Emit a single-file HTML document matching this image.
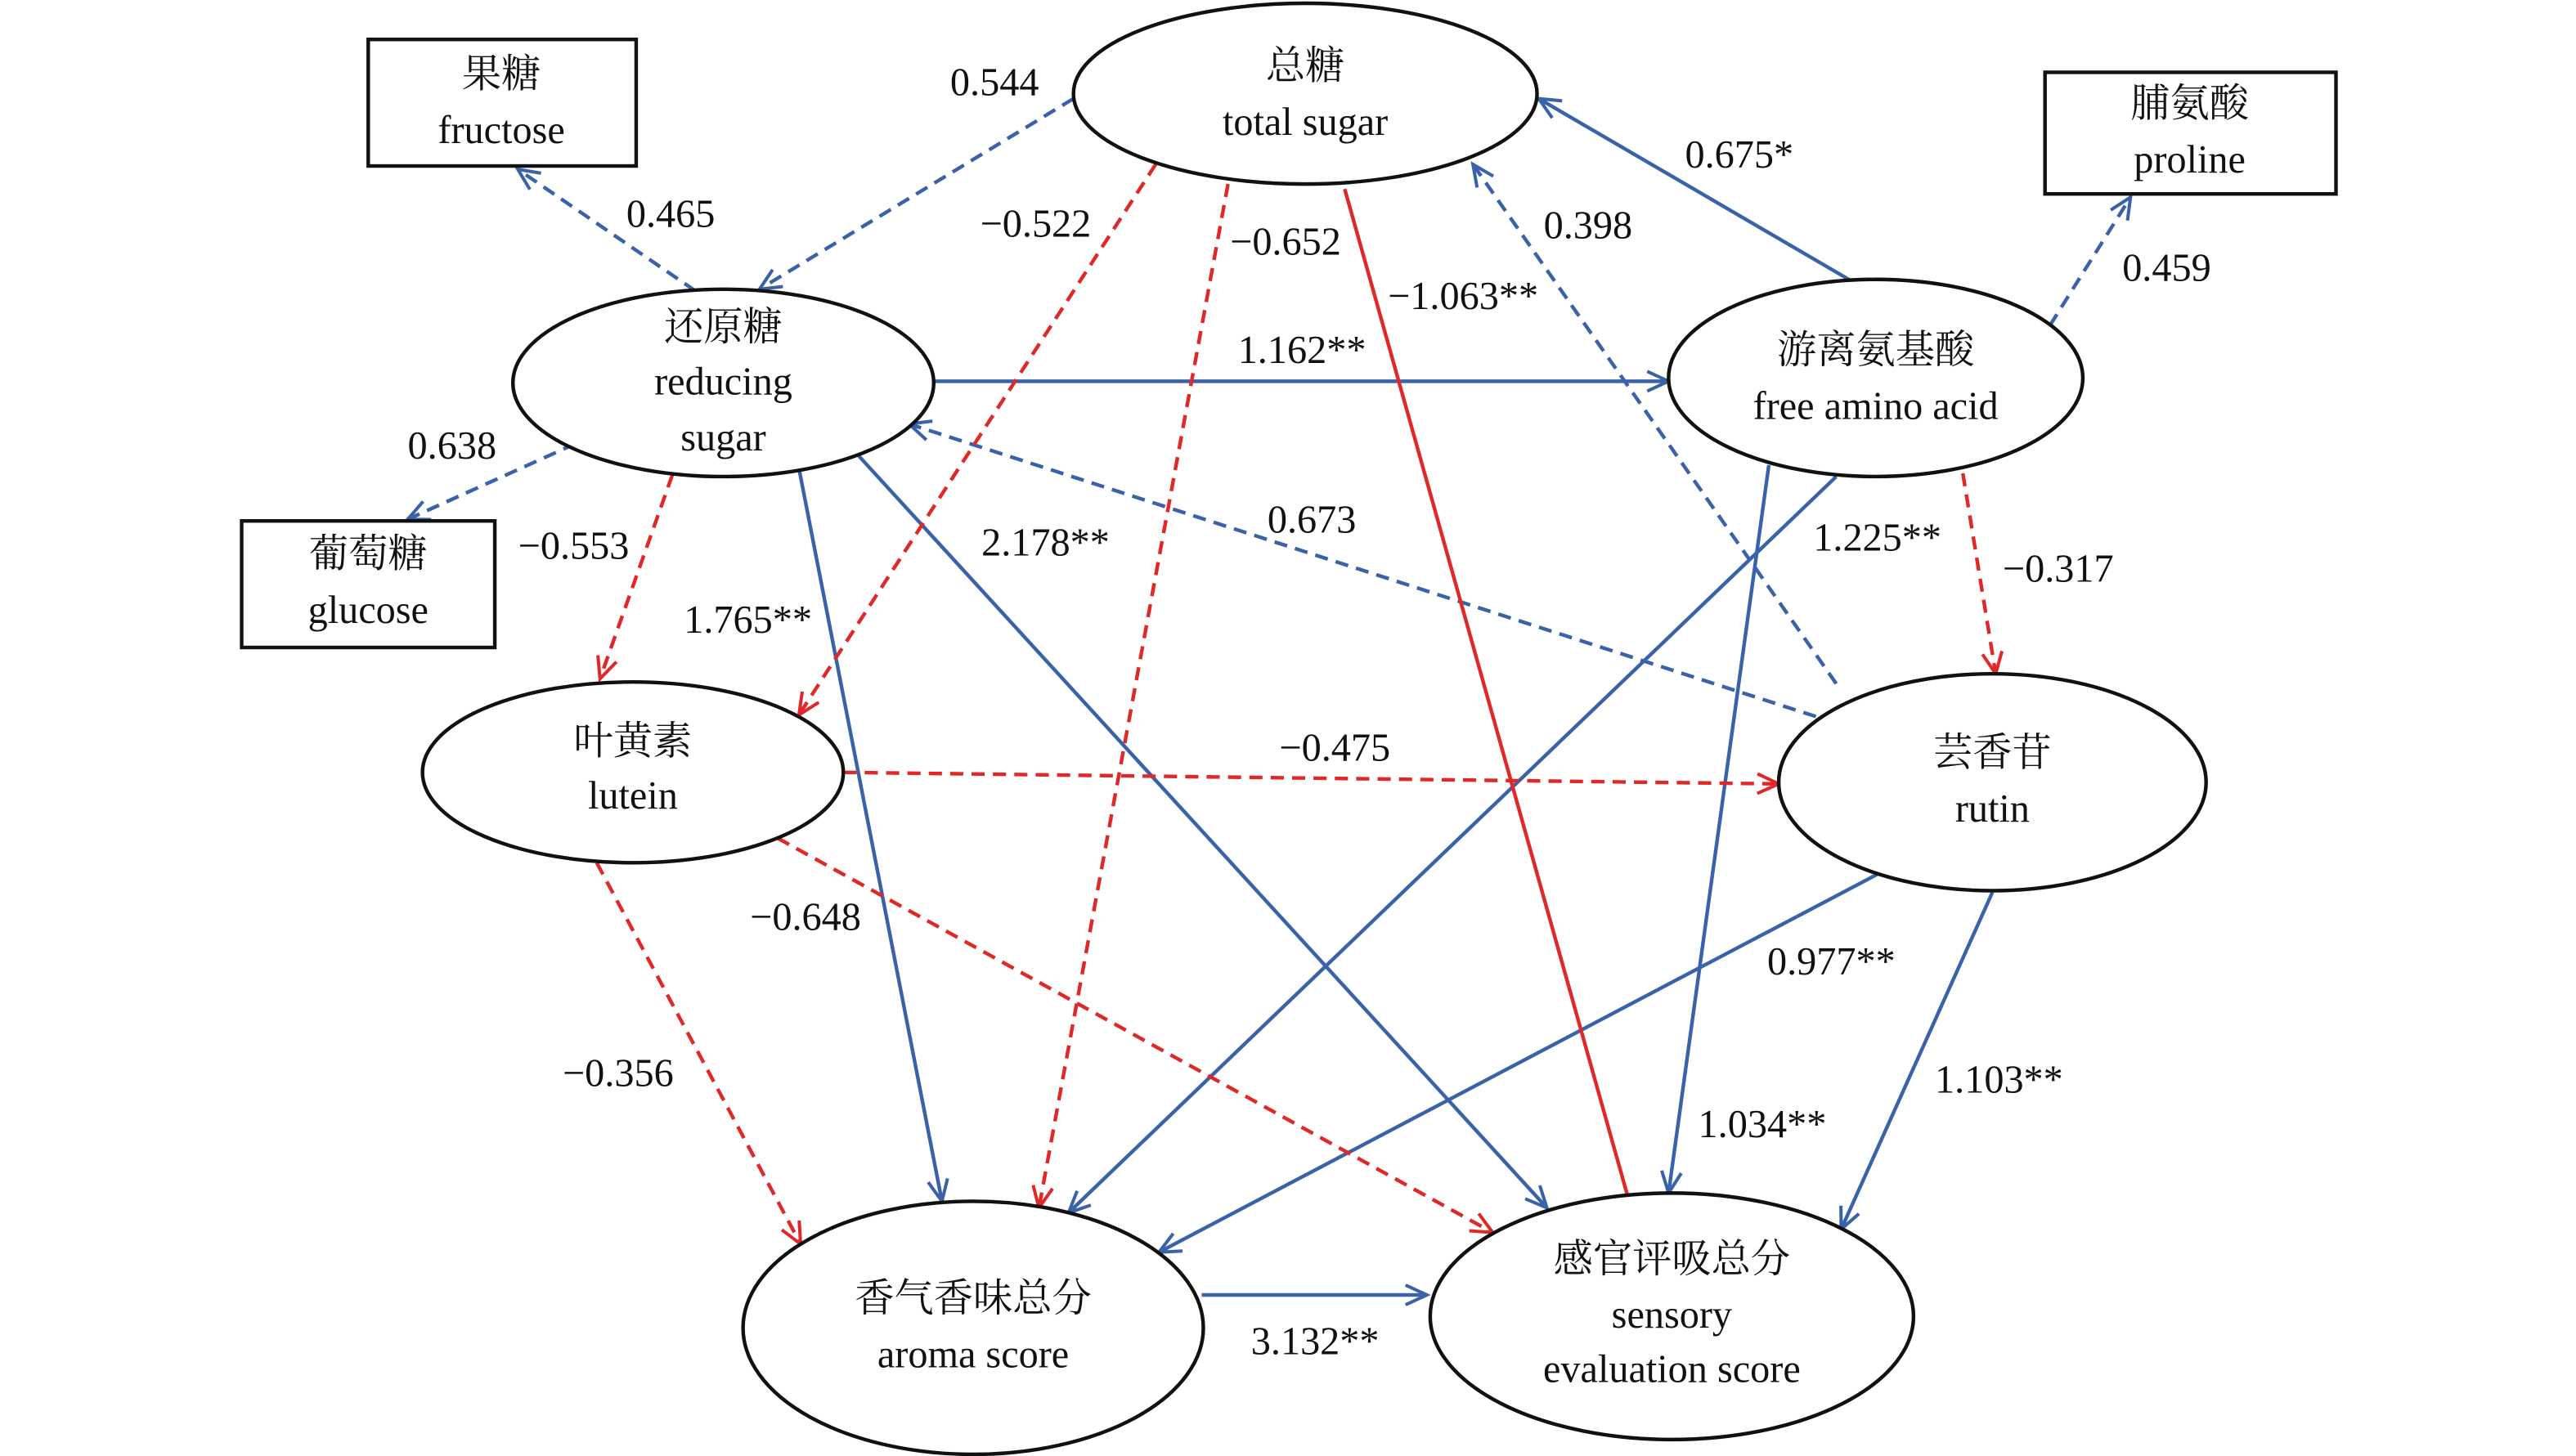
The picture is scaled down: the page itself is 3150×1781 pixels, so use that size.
<!DOCTYPE html>
<html><head><meta charset="utf-8"><style>
html,body{margin:0;padding:0;background:#fff;}
svg{display:block;}
text{font-family:"Liberation Serif","Noto Serif CJK SC",serif;font-size:24px;fill:#111;text-anchor:middle;}
</style></head><body>
<svg width="3150" height="1781" viewBox="0 0 1567 886" preserveAspectRatio="none" xmlns="http://www.w3.org/2000/svg">
<defs>
<marker id="ab" markerWidth="20" markerHeight="20" refX="14" refY="7" orient="auto" markerUnits="userSpaceOnUse"><path d="M1,1 L14,7 L1,13" fill="none" stroke="#3a62a8" stroke-width="2"/></marker>
<marker id="ar" markerWidth="20" markerHeight="20" refX="14" refY="7" orient="auto" markerUnits="userSpaceOnUse"><path d="M1,1 L14,7 L1,13" fill="none" stroke="#e02828" stroke-width="2"/></marker>
</defs>
<g fill="none" stroke-width="2.2">
<g stroke="#3a62a8" stroke-dasharray="8,5" marker-end="url(#ab)">
<line x1="653" y1="60" x2="462" y2="176"/>
<line x1="423" y1="177" x2="315" y2="103"/>
<line x1="350" y1="270" x2="248" y2="316"/>
<line x1="1247" y1="198" x2="1296" y2="120"/>
<line x1="1117" y1="440" x2="553" y2="258"/>
<line x1="1117" y1="416" x2="896" y2="100"/>
</g>
<g stroke="#3a62a8" marker-end="url(#ab)">
<line x1="1128" y1="172" x2="936" y2="60"/>
<line x1="568" y1="232" x2="1015" y2="232"/>
<line x1="486" y1="285" x2="573" y2="731"/>
<line x1="522" y1="277" x2="941" y2="735"/>
<line x1="1117" y1="290" x2="650" y2="738"/>
<line x1="1076" y1="283" x2="1015" y2="726"/>
<line x1="1142" y1="532" x2="705" y2="762"/>
<line x1="1212" y1="543" x2="1120" y2="748"/>
<line x1="731" y1="788" x2="868" y2="788"/>
</g>
<line x1="818" y1="115" x2="991" y2="731" stroke="#e02828"/>
<g stroke="#e02828" stroke-dasharray="8,5" marker-end="url(#ar)">
<line x1="703" y1="100" x2="486" y2="435"/>
<line x1="747" y1="112" x2="632" y2="735"/>
<line x1="409" y1="289" x2="365" y2="413"/>
<line x1="1194" y1="288" x2="1214" y2="410"/>
<line x1="513" y1="470" x2="1082" y2="477"/>
<line x1="473" y1="510" x2="908" y2="750"/>
<line x1="363" y1="525" x2="487" y2="757"/>
</g>
</g>
<g fill="#fff" stroke="#111" stroke-width="2.2">
<ellipse cx="794" cy="57" rx="141" ry="55"/>
<ellipse cx="440" cy="233" rx="128" ry="57"/>
<ellipse cx="1141" cy="230" rx="126" ry="60"/>
<ellipse cx="385" cy="470" rx="128" ry="55"/>
<ellipse cx="1212" cy="476" rx="130" ry="66"/>
<ellipse cx="592" cy="808" rx="140" ry="77"/>
<ellipse cx="1017" cy="801" rx="147" ry="75"/>
<rect x="224" y="24" width="163" height="77"/>
<rect x="1244" y="44" width="177" height="74"/>
<rect x="147" y="317" width="154" height="77"/>
</g>
<text x="794" y="48">总糖</text><text x="794" y="82">total sugar</text>
<text x="440" y="207">还原糖</text><text x="440" y="240">reducing</text><text x="440" y="274">sugar</text>
<text x="1141" y="221">游离氨基酸</text><text x="1141" y="255">free amino acid</text>
<text x="385" y="459">叶黄素</text><text x="385" y="492">lutein</text>
<text x="1212" y="466">芸香苷</text><text x="1212" y="500">rutin</text>
<text x="592" y="798">香气香味总分</text><text x="592" y="832">aroma score</text>
<text x="1017" y="774">感官评吸总分</text><text x="1017" y="808">sensory</text><text x="1017" y="841">evaluation score</text>
<text x="305" y="53">果糖</text><text x="305" y="87">fructose</text>
<text x="1332" y="71">脯氨酸</text><text x="1332" y="105">proline</text>
<text x="224" y="345">葡萄糖</text><text x="224" y="379">glucose</text>
<text x="605" y="58">0.544</text>
<text x="408" y="138">0.465</text>
<text x="275" y="279">0.638</text>
<text x="1318" y="171">0.459</text>
<text x="798" y="324">0.673</text>
<text x="966" y="145">0.398</text>
<text x="1058" y="102">0.675*</text>
<text x="792" y="221">1.162**</text>
<text x="455" y="385">1.765**</text>
<text x="636" y="338">2.178**</text>
<text x="1142" y="335">1.225**</text>
<text x="1072" y="692">1.034**</text>
<text x="1114" y="593">0.977**</text>
<text x="1216" y="665">1.103**</text>
<text x="800" y="824">3.132**</text>
<text x="890" y="188">−1.063**</text>
<text x="630" y="144">−0.522</text>
<text x="782" y="155">−0.652</text>
<text x="349" y="340">−0.553</text>
<text x="1252" y="354">−0.317</text>
<text x="812" y="463">−0.475</text>
<text x="490" y="566">−0.648</text>
<text x="376" y="661">−0.356</text>
</svg>
</body></html>
